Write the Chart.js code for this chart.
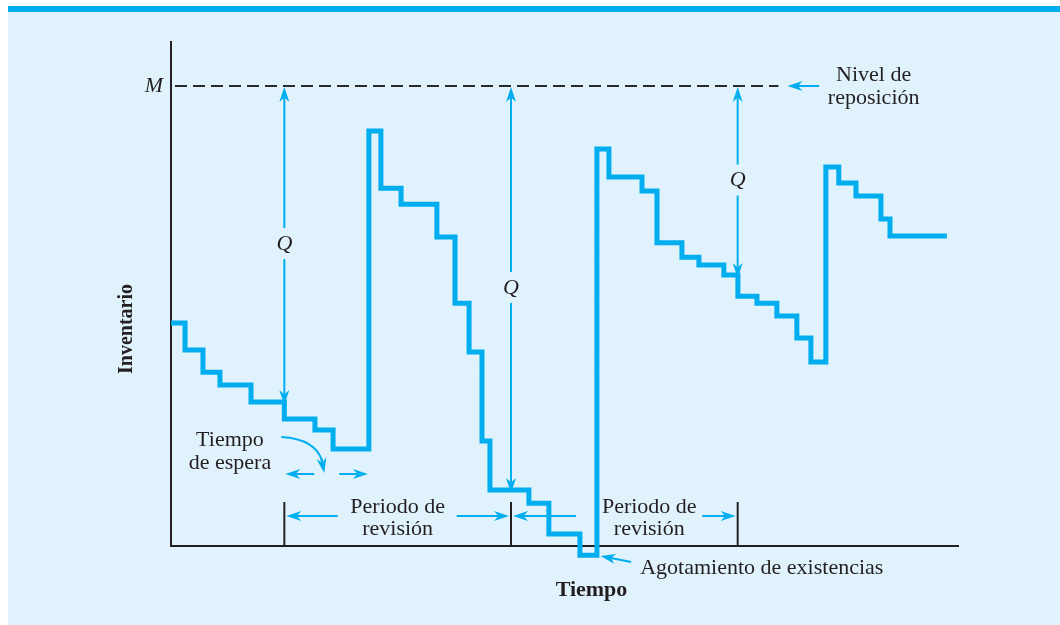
<!DOCTYPE html>
<html>
<head>
<meta charset="utf-8">
<script src="https://cdn.jsdelivr.net/npm/chart.js@4.4.0/dist/chart.umd.min.js"></script>
<style>
body { margin: 0; background: #fff; }
#panel { position: absolute; left: 8px; top: 6px; width: 1052px; height: 619px; background: #e0f2fc; border-top: 6px solid #00aeef; box-sizing: border-box; }
#wrap { position: absolute; left: 0; top: 0; width: 1060px; height: 625px; }
</style>
</head>
<body>
<div id="panel"></div>
<div id="wrap"><canvas id="myChart"></canvas></div>
<script>
// step points: time at which the level changes, and the new level
const times = [0, 0.62, 1.41, 2.16, 3.53, 5.0, 6.35, 7.15, 8.73, 9.26, 10.15, 11.73, 12.53, 13.15, 13.72, 14.07, 15.79, 16.67, 18.04, 18.79, 19.32, 20.78, 21.44, 22.54, 23.29, 24.39, 25.01, 25.85, 26.73, 27.61, 28.23, 28.89, 29.46, 30.22, 31.32, 31.72, 34.23];
const inventory = [48.5, 42.6, 37.8, 35.0, 31.3, 27.6, 25.2, 21.1, 90.2, 77.8, 74.3, 67.2, 52.8, 42.2, 22.8, 12.2, 9.3, 2.6, -2.0, 86.3, 80.2, 77.2, 65.9, 62.8, 61.1, 58.9, 54.3, 52.8, 50.0, 45.2, 40.0, 82.4, 78.9, 76.1, 71.1, 67.4, 67.4];

const reviewTimes = [5, 15, 25];
const reviewLevels = [31.3, 12.2, 58.9];
const arrivalTime = 8.73;
const replenishLevel = 100;
const periodLabels = [10.0, 21.1]; // centre of "Periodo de revisión" texts

const cyan = "#00aeef";
const ink = "#231f20";
const serif = "'Liberation Serif', 'DejaVu Serif', serif";

function arrow(ctx, x1, y1, x2, y2) {
	const a = Math.atan2(y2 - y1, x2 - x1);
	const len = 15, w = 5;
	ctx.save();
	ctx.strokeStyle = cyan;
	ctx.fillStyle = cyan;
	ctx.lineWidth = 2;
	ctx.beginPath();
	ctx.moveTo(x1, y1);
	ctx.lineTo(x2 - Math.cos(a) * len * 0.7, y2 - Math.sin(a) * len * 0.7);
	ctx.stroke();
	ctx.translate(x2, y2);
	ctx.rotate(a);
	ctx.beginPath();
	ctx.moveTo(0, 0);
	ctx.lineTo(-len, -w);
	ctx.lineTo(-len * 0.7, 0);
	ctx.lineTo(-len, w);
	ctx.closePath();
	ctx.fill();
	ctx.restore();
}

function text(ctx, str, x, y, font, align) {
	ctx.font = font;
	ctx.fillStyle = ink;
	ctx.textAlign = align || "center";
	ctx.textBaseline = "middle";
	ctx.fillText(str, x, y);
}

const annotations = {
	id: "annotations",
	afterDatasetsDraw(chart) {
		const ctx = chart.ctx;
		const xs = chart.scales.x, ys = chart.scales.y;
		const px = (t) => xs.getPixelForValue(t);
		const py = (v) => ys.getPixelForValue(v);
		const area = chart.chartArea;
		const f = "22px " + serif;
		const fi = "italic 22px " + serif;
		const fb = "bold 22px " + serif;
		const yM = py(replenishLevel);

		// replenishment level
		ctx.save();
		ctx.strokeStyle = "#2b2b2b";
		ctx.lineWidth = 2;
		ctx.setLineDash([12, 6]);
		ctx.beginPath();
		ctx.moveTo(area.left + 4, yM);
		ctx.lineTo(px(26.8), yM);
		ctx.stroke();
		ctx.restore();
		text(ctx, "M", area.left - 8, yM, fi, "right");
		arrow(ctx, px(28.6), yM, px(27.2), yM);
		text(ctx, "Nivel de", px(31.0), yM - 11, f);
		text(ctx, "reposición", px(31.0), yM + 12, f);

		// Q arrows
		reviewTimes.forEach((t, i) => {
			const x = px(t);
			const yLow = py(reviewLevels[i]);
			const yMid = (yM + yLow) / 2;
			arrow(ctx, x, yMid - 16, x, yM + 1);
			arrow(ctx, x, yMid + 15, x, yLow + 3);
			text(ctx, "Q", x, yMid, fi);
		});

		// review ticks
		ctx.save();
		ctx.strokeStyle = ink;
		ctx.lineWidth = 2;
		reviewTimes.forEach((t) => {
			ctx.beginPath();
			ctx.moveTo(px(t), area.bottom);
			ctx.lineTo(px(t), area.bottom - 44);
			ctx.stroke();
		});
		ctx.restore();

		// review periods
		const yArr = area.bottom - 30;
		periodLabels.forEach((c, i) => {
			const cx = px(c);
			text(ctx, "Periodo de", cx, area.bottom - 39, f);
			text(ctx, "revisión", cx, area.bottom - 17, f);
			const left = px(reviewTimes[i]), right = px(reviewTimes[i + 1]);
			arrow(ctx, i === 0 ? cx - 60 : left + 65, yArr, left + 2, yArr);
			arrow(ctx, i === 0 ? cx + 59 : cx + 53, yArr, right - 2, yArr);
		});

		// lead time
		text(ctx, "Tiempo", px(2.6), 440, f);
		text(ctx, "de espera", px(2.6), 463, f);
		const x0 = px(reviewTimes[0]);
		ctx.save();
		ctx.strokeStyle = cyan;
		ctx.lineWidth = 2;
		ctx.beginPath();
		ctx.moveTo(x0 - 3, 437);
		ctx.quadraticCurveTo(x0 + 32, 439, x0 + 38, 462);
		ctx.stroke();
		ctx.restore();
		arrow(ctx, x0 + 37, 458, x0 + 40, 473);
		arrow(ctx, x0 + 30, 474, x0 + 1, 474);
		arrow(ctx, x0 + 55, 474, px(arrivalTime) - 1, 474);

		// stockout
		arrow(ctx, px(20.3), area.bottom + 16, px(18.95), area.bottom + 10);
		text(ctx, "Agotamiento de existencias", px(20.7), area.bottom + 22, f, "left");

		// axis titles
		text(ctx, "Tiempo", (area.left + area.right) / 2 + 27, area.bottom + 44, fb);
		ctx.save();
		ctx.translate(127, 329);
		ctx.rotate(-Math.PI / 2);
		text(ctx, "Inventario", 0, 0, "bold 20px " + serif);
		ctx.restore();
	},
};

const data = {
	datasets: [
		{
			label: "Inventario",
			data: times.map((t, i) => ({ x: t, y: inventory[i] })),
			stepped: "before",
			borderColor: cyan,
			borderWidth: 5,
			borderJoinStyle: "miter",
			borderCapStyle: "butt",
			pointRadius: 0,
			fill: false,
			clip: false,
		},
	],
};

const config = {
	type: "line",
	data: data,
	plugins: [annotations],
	options: {
		responsive: true,
		maintainAspectRatio: false,
		animation: false,
		layout: { padding: { left: 171, right: 102, top: 42, bottom: 79 } },
		plugins: { legend: { display: false }, tooltip: { enabled: false } },
		scales: {
			x: {
				type: "linear",
				min: 0,
				max: 34.72,
				grid: { display: false },
				ticks: { display: false },
				border: { color: ink, width: 2 },
				afterFit: (s) => { s.height = 0; },
			},
			y: {
				min: 0,
				max: 109.57,
				grid: { display: false },
				ticks: { display: false },
				border: { color: ink, width: 2 },
				afterFit: (s) => { s.width = 0; },
			},
		},
	},
};

new Chart(document.getElementById("myChart"), config);
</script>
</body>
</html>
